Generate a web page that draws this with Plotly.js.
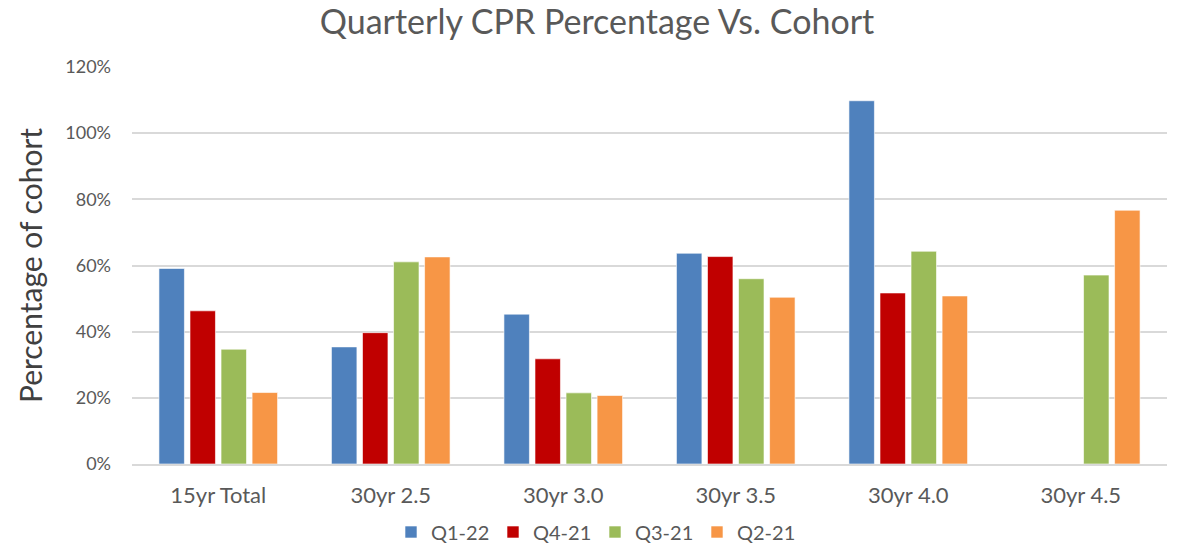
<!DOCTYPE html>
<html><head><meta charset="utf-8">
<script src="https://cdn.plot.ly/plotly-3.0.1.min.js"></script>
<style>html,body{margin:0;padding:0;background:#fff}#chart{width:1178px;height:544px}</style>
</head><body><div id="chart"></div>
<script>
const categories = ["15yr Total", "30yr 2.5", "30yr 3.0", "30yr 3.5", "30yr 4.0", "30yr 4.5"];
const seriesNames = ["Q1-22", "Q4-21", "Q3-21", "Q2-21"];
const q1_22 = [59.1, 35.4, 45.3, 63.7, 109.8, null];
const q4_21 = [46.3, 39.7, 31.8, 62.7, 51.7, null];
const q3_21 = [34.7, 61.1, 21.5, 56.0, 64.3, 57.1];
const q2_21 = [21.6, 62.6, 20.7, 50.4, 50.8, 76.7];
const colors = ["#4F81BD", "#C00000", "#9BBB59", "#F79646"];
const values = [q1_22, q4_21, q3_21, q2_21];

const traces = values.map((v, i) => ({
  type: "bar", name: seriesNames[i], x: categories, y: v,
  marker: {color: colors[i], line: {color: "rgba(255,255,255,0.6)", width: 1}},
  hoverinfo: "x+y+name"
}));

const layout = {
  width: 1178, height: 544,
  margin: {l: 132, r: 11, t: 67, b: 80, autoexpand: false},
  paper_bgcolor: "#fff", plot_bgcolor: "#fff",
  font: {family: "Lato, 'Open Sans', sans-serif", color: "#595959"},
  title: {text: "Quarterly CPR Percentage Vs. Cohort", font: {size: 34, color: "#595959"}, x: 597 / 1178, xanchor: "center", xref: "container", y: 1 - 22 / 544, yref: "container", yanchor: "middle"},
  barmode: "group", bargap: 0.28, bargroupgap: 0.18,
  xaxis: {type: "category", tickfont: {size: 22, color: "#595959"}, showline: true, linecolor: "#D9D9D9", linewidth: 2, ticks: "", showgrid: false, ticklabelstandoff: 11},
  yaxis: {range: [0, 120], dtick: 20, ticksuffix: "%", tickfont: {size: 18, color: "#595959"},
    gridcolor: "#D9D9D9", gridwidth: 2, zeroline: false, ticks: "", ticklen: 0, ticklabelstandoff: 20,
    title: {text: "Percentage of cohort", font: {size: 30, color: "#404040"}, standoff: 13}},
  legend: {orientation: "h", x: 595 / 1178, xanchor: "center", xref: "container", y: 12 / 544, yref: "container", yanchor: "middle", font: {size: 20, color: "#595959"}, traceorder: "normal", itemwidth: 20, entrywidth: 57, entrywidthmode: "pixels"}
};
Plotly.newPlot("chart", traces, layout, {displayModeBar: false, responsive: false});
</script></body></html>
